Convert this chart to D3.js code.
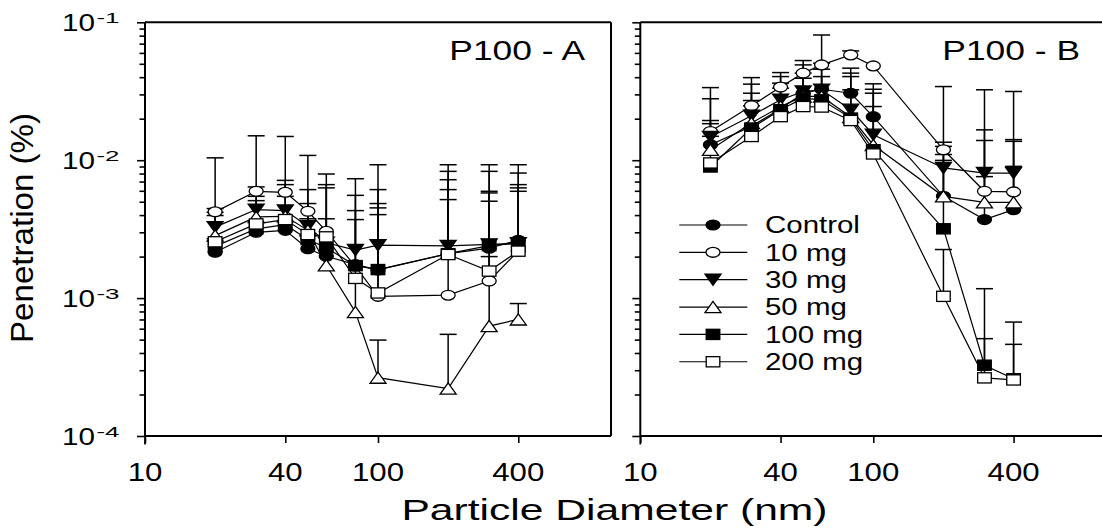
<!DOCTYPE html>
<html><head><meta charset="utf-8">
<script src="https://cdn.jsdelivr.net/npm/d3@7"></script>
<style>
body{margin:0;background:#fff}
svg{display:block}
text{font-family:"Liberation Sans",Arial,Helvetica,sans-serif;fill:#000}
</style>
</head><body>
<svg id="c" width="1102" height="529"></svg>
<script>
// ---------------- data ----------------
const sizes = [20, 30, 40, 50, 60, 80, 100, 200, 300, 400];
const seriesNames = ["Control", "10 mg", "30 mg", "50 mg", "100 mg", "200 mg"];
const markerTypes = ["circleFill", "circleOpen", "triDownFill", "triUpOpen", "squareFill", "squareOpen"];
const xTickValues = [10, 40, 100, 400];
const xTickLabels = ["10", "40", "100", "400"];
const yTickExponents = [-1, -2, -3, -4];
const panelTitles = ["P100 - A", "P100 - B"];
const xAxisTitle = "Particle Diameter (nm)";
const yAxisTitle = "Penetration (%)";

// Panel A values
const aControl = [0.00215, 0.0030, 0.0031, 0.00228, 0.00201, 0.00175, 0.0016, 0.0021, 0.0023, 0.00263];
const a10 = [0.00422, 0.00595, 0.00585, 0.00426, 0.00305, 0.0017, 0.00103, 0.00105, 0.00133, 0.0022];
const a30 = [0.00327, 0.00438, 0.00431, 0.00332, 0.00252, 0.00223, 0.00242, 0.00239, 0.00245, 0.0025];
const a50 = [0.00284, 0.00388, 0.00392, 0.0031, 0.00173, 0.000792, 0.000265, 0.000221, 0.000627, 0.000701];
const a100 = [0.00237, 0.00318, 0.00341, 0.00266, 0.00232, 0.00172, 0.00161, 0.0021, 0.0024, 0.0025];
const a200 = [0.00256, 0.00345, 0.00371, 0.00289, 0.00278, 0.00139, 0.00109, 0.00207, 0.00157, 0.00219];
// Panel A upper error-bar ends
const aControlErr = [0.0027, 0.01503, 0.01486, 0.01083, 0.00665, 0.00734, 0.00612, 0.0083, 0.0083, 0.00807];
const a10Err = [0.00446, 0.0064, 0.00714, 0.00612, 0.00376, null, 0.00403, 0.00518, 0.002, 0.00595];
const a30Err = [0.0104, 0.00547, 0.00665, 0.00485, 0.0063, 0.00556, 0.00927, 0.00927, 0.00927, 0.00927];
const a50Err = [0.00419, 0.00509, 0.00547, 0.00376, 0.00794, 0.00371, 0.000496, 0.000546, 0.00504, 0.000913];
const a100Err = [null, null, null, null, null, 0.00431, 0.00485, 0.00722, 0.00595, 0.00665];
const a200Err = [0.00397, null, null, null, null, null, 0.00451, 0.00612, 0.00579, 0.0063];

// Panel B values
const bControl = [0.01295, 0.0176, 0.0236, 0.0306, 0.0327, 0.0306, 0.0207, 0.00547, 0.00371, 0.00438];
const b10 = [0.01615, 0.0248, 0.0339, 0.0428, 0.0491, 0.058, 0.0483, 0.0119, 0.00595, 0.00589];
const b30 = [0.01472, 0.021, 0.0274, 0.0315, 0.0324, 0.0232, 0.0153, 0.00879, 0.00807, 0.00807];
const b50 = [0.0119, 0.0186, 0.0245, 0.029, 0.029, 0.0206, 0.0129, 0.00547, 0.00495, 0.00495];
const b100 = [0.00893, 0.0171, 0.0232, 0.0282, 0.0274, 0.0202, 0.0119, 0.00318, 0.000326, 0.00026];
const b200 = [0.00955, 0.01486, 0.0207, 0.0245, 0.0243, 0.0194, 0.0111, 0.00103, 0.000264, 0.000255];
// Panel B upper error-bar ends
const bControlErr = [0.0279, 0.0356, 0.0404, 0.0428, 0.0505, 0.0465, 0.0358, 0.0126, 0.0166, 0.0141];
const b10Err = [0.0194, 0.0306, 0.0362, 0.0528, 0.0809, 0.062, null, 0.0135, 0.0076, 0.00902];
const b30Err = [0.0336, 0.0397, 0.0432, 0.0491, 0.0457, 0.0428, 0.0327, 0.011, 0.0324, 0.0315];
const b50Err = [0.0184, 0.0271, 0.0333, 0.0393, 0.0404, 0.0404, 0.0306, 0.00997, 0.0139, 0.0137];
const b100Err = [null, null, null, null, null, 0.0324, 0.0245, 0.0342, 0.00117, 0.00067];
const b200Err = [0.0149, 0.0248, null, null, null, null, null, 0.00225, 0.000508, 0.000462];

const panelAValues = [aControl, a10, a30, a50, a100, a200];
const panelAErrors = [aControlErr, a10Err, a30Err, a50Err, a100Err, a200Err];
const panelBValues = [bControl, b10, b30, b50, b100, b200];
const panelBErrors = [bControlErr, b10Err, b30Err, b50Err, b100Err, b200Err];

// ---------------- layout ----------------
const svg = d3.select("#c");
const yTop = 22.3, yBot = 436;
const panels = [
  {x0: 145, x1: 611, values: panelAValues, errors: panelAErrors, title: panelTitles[0], titleX: 585, boxRight: true},
  {x0: 640.3, x1: 1106.3, values: panelBValues, errors: panelBErrors, title: panelTitles[1], titleX: 1080, boxRight: false}
];
const y = d3.scaleLog().domain([1e-4, 1e-1]).range([yBot, yTop]);

function placeText(g, str, x, yy, fs, sx, anchor) {
  const t = g.append("text").attr("font-size", fs).attr("x", 0).attr("y", yy).text(str);
  const w = t.node().getComputedTextLength() * sx;
  t.attr("textLength", w).attr("lengthAdjust", "spacingAndGlyphs");
  const x0 = anchor === "middle" ? x - w / 2 : anchor === "end" ? x - w : x;
  t.attr("x", x0);
  return t;
}

function drawMarker(g, type, cx, cy) {
  const filled = type.endsWith("Fill");
  const fill = filled ? "#000" : "#fff";
  let el;
  if (type.startsWith("circle")) {
    el = g.append("ellipse").attr("cx", cx).attr("cy", cy).attr("rx", 7).attr("ry", 4.9);
  } else if (type.startsWith("square")) {
    el = g.append("rect").attr("x", cx - 6.8).attr("y", cy - 5.1).attr("width", 13.6).attr("height", 10.2);
  } else if (type.startsWith("triUp")) {
    el = g.append("path").attr("d", `M${cx - 8},${cy + 5.6}L${cx + 8},${cy + 5.6}L${cx},${cy - 5.6}Z`);
  } else {
    el = g.append("path").attr("d", `M${cx - 8},${cy - 5.6}L${cx + 8},${cy - 5.6}L${cx},${cy + 5.6}Z`);
  }
  el.attr("fill", fill).attr("stroke", "#000").attr("stroke-width", 1.3);
}

const majorY = [1e-4, 1e-3, 1e-2, 1e-1];
const minorY = [];
[1e-4, 1e-3, 1e-2].forEach(d => { for (let k = 2; k <= 9; k++) minorY.push(d * k); });

panels.forEach((p, pi) => {
  const x = d3.scaleLog().domain([10, 1000]).range([p.x0, p.x1]);
  const g = svg.append("g");

  // y ticks (outward, left)
  const ga = g.append("g").attr("transform", `translate(${p.x0},0)`)
    .call(d3.axisLeft(y).tickValues(majorY).tickSize(8).tickSizeOuter(0).tickFormat(""));
  const gm = g.append("g").attr("transform", `translate(${p.x0},0)`)
    .call(d3.axisLeft(y).tickValues(minorY).tickSize(5.5).tickSizeOuter(0).tickFormat(""));
  // x ticks (outward, down)
  const gx = g.append("g").attr("transform", `translate(0,${yBot})`)
    .call(d3.axisBottom(x).tickValues(xTickValues).tickSize(7).tickSizeOuter(0).tickFormat(""));
  [ga, gm, gx].forEach(s => {
    s.selectAll(".domain").remove();
    s.selectAll("line").attr("stroke", "#000").attr("stroke-width", 1.6);
  });
  g.append("line").attr("x1", x(10)).attr("x2", x(10)).attr("y1", yBot).attr("y2", yBot + 8.5)
    .attr("stroke", "#000").attr("stroke-width", 1.8);

  // frame
  const frame = g.append("g").attr("stroke", "#000").attr("stroke-width", 2).attr("fill", "none");
  frame.append("line").attr("x1", p.x0).attr("x2", p.x0).attr("y1", yTop).attr("y2", yBot);
  frame.append("line").attr("x1", p.x0).attr("x2", p.x1).attr("y1", yTop).attr("y2", yTop);
  frame.append("line").attr("x1", p.x0).attr("x2", p.x1).attr("y1", yBot).attr("y2", yBot);
  if (p.boxRight) frame.append("line").attr("x1", p.x1).attr("x2", p.x1).attr("y1", yTop).attr("y2", yBot);

  // x tick labels
  xTickValues.forEach((v, i) => placeText(g, xTickLabels[i], x(v), yBot + 45, 26, 1.2, "middle"));

  // y tick labels (only left panel)
  if (pi === 0) {
    yTickExponents.forEach(e => {
      const ty = y(Math.pow(10, e));
      g.append("text").attr("font-size", 24.5).attr("x", p.x0 - 83).attr("y", ty + 8.6).text("10")
        .attr("textLength", 33).attr("lengthAdjust", "spacingAndGlyphs");
      g.append("text").attr("font-size", 15).attr("x", p.x0 - 48.5).attr("y", ty + 0.8).text(String(e))
        .attr("textLength", 23).attr("lengthAdjust", "spacingAndGlyphs");
    });
  }

  // panel title
  placeText(g, p.title, p.titleX, 59.5, 27, 1.31, "end");

  // error bars
  const eg = g.append("g").attr("stroke", "#000").attr("stroke-width", 1.5);
  p.values.forEach((vals, si) => {
    vals.forEach((v, i) => {
      const e = p.errors[si][i];
      if (e == null) return;
      const cx = x(sizes[i]);
      eg.append("line").attr("x1", cx).attr("x2", cx).attr("y1", y(v)).attr("y2", y(e));
      eg.append("line").attr("x1", cx - 8.5).attr("x2", cx + 8.5).attr("y1", y(e)).attr("y2", y(e));
    });
  });

  // series lines + markers
  const line = d3.line().x((d, i) => x(sizes[i])).y(d => y(d));
  p.values.forEach((vals, si) => {
    g.append("path").attr("d", line(vals)).attr("fill", "none").attr("stroke", "#000").attr("stroke-width", 1.2);
    const mg = g.append("g");
    vals.forEach((v, i) => drawMarker(mg, markerTypes[si], x(sizes[i]), y(v)));
  });
});

// legend (inside panel B)
const lg = svg.append("g");
const legX0 = 679.3, legX1 = 747.3, legM = 713, legTextX = 765, legY0 = 225, legStep = 27.35;
seriesNames.forEach((name, i) => {
  const ly = legY0 + i * legStep;
  lg.append("line").attr("x1", legX0).attr("x2", legX1).attr("y1", ly).attr("y2", ly)
    .attr("stroke", "#000").attr("stroke-width", 1.2);
  drawMarker(lg, markerTypes[i], legM, ly);
  placeText(lg, name, legTextX, ly + 8.3, 23, 1.28, "start");
});

// axis titles
placeText(svg, xAxisTitle, 614.5, 520, 30, 1.42, "middle");
const yt = svg.append("g").attr("transform", "rotate(-90)");
placeText(yt, yAxisTitle, -228, 33, 32, 1.035, "middle");
</script>
</body></html>
